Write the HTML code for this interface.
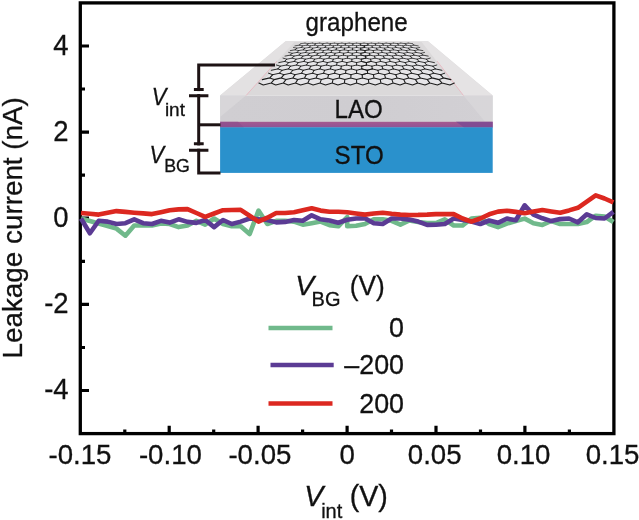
<!DOCTYPE html>
<html><head><meta charset="utf-8"><title>Leakage current</title>
<style>html,body{margin:0;padding:0;background:#fff}svg{display:block}</style></head>
<body>
<svg width="639" height="520" viewBox="0 0 639 520">
<defs><linearGradient id="lao" x1="0" y1="0" x2="1" y2="0"><stop offset="0" stop-color="#d0ced2"/><stop offset="0.5" stop-color="#cfcdd1"/><stop offset="1" stop-color="#d2d0d4"/></linearGradient><linearGradient id="pur" x1="0" y1="0" x2="0" y2="1"><stop offset="0" stop-color="#a6598f"/><stop offset="1" stop-color="#8d5497"/></linearGradient></defs>
<rect width="639" height="520" fill="#fff"/>
<polygon points="285.6,41.2 428,41.2 492.7,95.6 220.1,95.6" fill="#dbd9da"/>
<polygon points="285.6,41.2 295,41.2 246,95.6 220.1,95.6" fill="#e3e1e2"/>
<polygon points="428,41.2 421,41.2 463.5,95.6 492.7,95.6" fill="#e5e3e4"/>
<rect x="220.1" y="95.6" width="272.6" height="26.4" fill="url(#lao)"/>
<polygon points="220.1,95.6 246,95.6 220.1,117" fill="#dad8db" opacity="0.8"/>
<polygon points="492.7,95.6 463.5,95.6 485,121.8 492.7,121.8" fill="#dad8db" opacity="0.7"/>
<rect x="220.1" y="121.8" width="272.6" height="5.8" fill="url(#pur)"/>
<polygon points="456,121.8 492.7,121.8 492.7,127.6 464,127.6" fill="#7c4a92" opacity="0.8"/>
<polygon points="220.1,121.8 238,121.8 244,127.6 220.1,127.6" fill="#8a4d8c" opacity="0.6"/>
<rect x="220.1" y="127.3" width="272.6" height="45.6" fill="#2a91cc"/>
<line x1="246" y1="95.6" x2="277" y2="61" stroke="#e9b4be" stroke-width="1" opacity="0.8"/>
<line x1="463.5" y1="95.6" x2="437" y2="61" stroke="#e9b4be" stroke-width="1" opacity="0.8"/>
<polygon points="259.2,83.9 454.0,83.9 412.3,43.5 300.9,43.5" fill="#e6e5e8"/>
<g stroke="#1c1c1c" fill="none" stroke-linecap="round"><path d="M258.9 83.1L263.3 85.0M262.3 79.6L269.8 77.9M263.3 85.0L271.1 83.1M269.8 77.9L272.7 74.7M269.8 77.9L274.1 79.6M271.1 83.1L274.1 79.6M271.1 83.1L275.8 85.0M274.1 79.6L281.3 77.9M275.8 85.0L283.3 83.1M281.3 77.9L283.9 74.7M281.3 77.9L285.9 79.6M283.3 83.1L285.9 79.6M283.3 83.1L288.2 85.0M285.9 79.6L292.9 77.9M288.2 85.0L295.5 83.1M292.9 77.9L295.0 74.7M292.9 77.9L297.7 79.6M295.5 83.1L297.7 79.6M295.5 83.1L300.6 85.0M297.7 79.6L304.5 77.9M300.6 85.0L307.8 83.1M304.5 77.9L306.2 74.7M304.5 77.9L309.5 79.6M307.8 83.1L309.5 79.6M307.8 83.1L313.1 85.0M309.5 79.6L316.1 77.9M313.1 85.0L320.0 83.1M316.1 77.9L317.4 74.7M316.1 77.9L321.3 79.6M320.0 83.1L321.3 79.6M320.0 83.1L325.5 85.0M321.3 79.6L327.7 77.9M325.5 85.0L332.2 83.1M327.7 77.9L328.6 74.7M327.7 77.9L333.0 79.6M332.2 83.1L333.0 79.6M332.2 83.1L337.9 85.0M333.0 79.6L339.2 77.9M337.9 85.0L344.4 83.1M339.2 77.9L339.8 74.7M339.2 77.9L344.8 79.6M344.4 83.1L344.8 79.6M344.4 83.1L350.4 85.0M344.8 79.6L350.8 77.9M350.4 85.0L356.6 83.1M350.8 77.9L351.0 74.7M350.8 77.9L356.6 79.6M356.6 83.1L356.6 79.6M356.6 83.1L362.8 85.0M356.6 79.6L362.4 77.9M362.8 85.0L368.8 83.1M362.4 77.9L362.2 74.7M362.4 77.9L368.4 79.6M362.4 77.9L368.4 79.6M368.8 83.1L368.4 79.6M368.4 79.6L374.0 77.9M368.8 83.1L368.4 79.6M368.8 83.1L375.3 85.0M368.4 79.6L374.0 77.9M375.3 85.0L381.0 83.1M374.0 77.9L373.4 74.7M374.0 77.9L380.2 79.6M381.0 83.1L380.2 79.6M381.0 83.1L387.7 85.0M380.2 79.6L385.5 77.9M387.7 85.0L393.2 83.1M385.5 77.9L384.6 74.7M385.5 77.9L391.9 79.6M393.2 83.1L391.9 79.6M393.2 83.1L400.1 85.0M391.9 79.6L397.1 77.9M400.1 85.0L405.4 83.1M397.1 77.9L395.8 74.7M397.1 77.9L403.7 79.6M405.4 83.1L403.7 79.6M405.4 83.1L412.6 85.0M403.7 79.6L408.7 77.9M412.6 85.0L417.7 83.1M408.7 77.9L407.0 74.7M408.7 77.9L415.5 79.6M417.7 83.1L415.5 79.6M417.7 83.1L425.0 85.0M415.5 79.6L420.3 77.9M425.0 85.0L429.9 83.1M420.3 77.9L418.2 74.7M420.3 77.9L427.3 79.6M429.9 83.1L427.3 79.6M429.9 83.1L437.4 85.0M427.3 79.6L431.9 77.9M437.4 85.0L442.1 83.1M431.9 77.9L429.3 74.7M431.9 77.9L439.1 79.6M442.1 83.1L439.1 79.6M442.1 83.1L449.9 85.0M439.1 79.6L443.4 77.9M449.9 85.0L454.3 83.1M443.4 77.9L440.5 74.7M443.4 77.9L450.9 79.6" stroke-width="1.08"/><path d="M268.5 73.2L272.7 74.7M271.3 70.3L277.9 68.9M272.7 74.7L279.5 73.2M277.9 68.9L280.3 66.2M277.9 68.9L282.0 70.3M279.5 73.2L282.0 70.3M279.5 73.2L283.9 74.7M282.0 70.3L288.4 68.9M283.9 74.7L290.6 73.2M288.4 68.9L290.5 66.2M288.4 68.9L292.7 70.3M290.6 73.2L292.7 70.3M290.6 73.2L295.0 74.7M292.7 70.3L298.9 68.9M295.0 74.7L301.6 73.2M298.9 68.9L300.7 66.2M298.9 68.9L303.3 70.3M301.6 73.2L303.3 70.3M301.6 73.2L306.2 74.7M303.3 70.3L309.4 68.9M306.2 74.7L312.6 73.2M309.4 68.9L310.8 66.2M309.4 68.9L314.0 70.3M312.6 73.2L314.0 70.3M312.6 73.2L317.4 74.7M314.0 70.3L319.9 68.9M317.4 74.7L323.6 73.2M319.9 68.9L321.0 66.2M319.9 68.9L324.6 70.3M323.6 73.2L324.6 70.3M323.6 73.2L328.6 74.7M324.6 70.3L330.4 68.9M328.6 74.7L334.6 73.2M330.4 68.9L331.2 66.2M330.4 68.9L335.3 70.3M334.6 73.2L335.3 70.3M334.6 73.2L339.8 74.7M335.3 70.3L340.9 68.9M339.8 74.7L345.6 73.2M340.9 68.9L341.3 66.2M340.9 68.9L345.9 70.3M345.6 73.2L345.9 70.3M345.6 73.2L351.0 74.7M345.9 70.3L351.4 68.9M351.0 74.7L356.6 73.2M351.4 68.9L351.5 66.2M351.4 68.9L356.6 70.3M356.6 73.2L356.6 70.3M356.6 73.2L362.2 74.7M356.6 70.3L361.8 68.9M362.2 74.7L367.6 73.2M362.2 74.7L367.6 73.2M361.8 68.9L361.7 66.2M361.8 68.9L367.3 70.3M361.8 68.9L367.3 70.3M367.6 73.2L367.3 70.3M367.3 70.3L372.3 68.9M367.6 73.2L367.3 70.3M367.6 73.2L373.4 74.7M367.3 70.3L372.3 68.9M373.4 74.7L378.6 73.2M372.3 68.9L371.9 66.2M372.3 68.9L377.9 70.3M378.6 73.2L377.9 70.3M378.6 73.2L384.6 74.7M377.9 70.3L382.8 68.9M384.6 74.7L389.6 73.2M382.8 68.9L382.0 66.2M382.8 68.9L388.6 70.3M389.6 73.2L388.6 70.3M389.6 73.2L395.8 74.7M388.6 70.3L393.3 68.9M395.8 74.7L400.6 73.2M393.3 68.9L392.2 66.2M393.3 68.9L399.2 70.3M400.6 73.2L399.2 70.3M400.6 73.2L407.0 74.7M399.2 70.3L403.8 68.9M407.0 74.7L411.6 73.2M403.8 68.9L402.4 66.2M403.8 68.9L409.9 70.3M411.6 73.2L409.9 70.3M411.6 73.2L418.2 74.7M409.9 70.3L414.3 68.9M418.2 74.7L422.6 73.2M414.3 68.9L412.5 66.2M414.3 68.9L420.5 70.3M422.6 73.2L420.5 70.3M422.6 73.2L429.3 74.7M420.5 70.3L424.8 68.9M429.3 74.7L433.7 73.2M424.8 68.9L422.7 66.2M424.8 68.9L431.2 70.3M433.7 73.2L431.2 70.3M433.7 73.2L440.5 74.7M431.2 70.3L435.3 68.9M440.5 74.7L444.7 73.2M435.3 68.9L432.9 66.2M435.3 68.9L441.9 70.3" stroke-width="0.97"/><path d="M276.4 65.0L280.3 66.2M278.8 62.6L284.7 61.4M280.3 66.2L286.5 65.0M284.7 61.4L286.7 59.2M284.7 61.4L288.5 62.6M286.5 65.0L288.5 62.6M286.5 65.0L290.5 66.2M288.5 62.6L294.3 61.4M290.5 66.2L296.5 65.0M294.3 61.4L296.0 59.2M294.3 61.4L298.2 62.6M296.5 65.0L298.2 62.6M296.5 65.0L300.7 66.2M298.2 62.6L303.9 61.4M300.7 66.2L306.5 65.0M303.9 61.4L305.3 59.2M303.9 61.4L308.0 62.6M306.5 65.0L308.0 62.6M306.5 65.0L310.8 66.2M308.0 62.6L313.4 61.4M310.8 66.2L316.5 65.0M313.4 61.4L314.6 59.2M313.4 61.4L317.7 62.6M316.5 65.0L317.7 62.6M316.5 65.0L321.0 66.2M317.7 62.6L323.0 61.4M321.0 66.2L326.5 65.0M323.0 61.4L324.0 59.2M323.0 61.4L327.4 62.6M326.5 65.0L327.4 62.6M326.5 65.0L331.2 66.2M327.4 62.6L332.6 61.4M331.2 66.2L336.6 65.0M332.6 61.4L333.3 59.2M332.6 61.4L337.1 62.6M336.6 65.0L337.1 62.6M336.6 65.0L341.3 66.2M337.1 62.6L342.2 61.4M341.3 66.2L346.6 65.0M342.2 61.4L342.6 59.2M342.2 61.4L346.9 62.6M346.6 65.0L346.9 62.6M346.6 65.0L351.5 66.2M346.9 62.6L351.8 61.4M351.5 66.2L356.6 65.0M351.8 61.4L351.9 59.2M351.8 61.4L356.6 62.6M356.6 65.0L356.6 62.6M356.6 65.0L361.7 66.2M356.6 62.6L361.4 61.4M361.7 66.2L366.6 65.0M361.7 66.2L366.6 65.0M361.4 61.4L361.3 59.2M361.4 61.4L366.3 62.6M361.4 61.4L366.3 62.6M366.6 65.0L366.3 62.6M366.3 62.6L371.0 61.4M366.6 65.0L366.3 62.6M366.6 65.0L371.9 66.2M366.3 62.6L371.0 61.4M371.9 66.2L376.6 65.0M371.0 61.4L370.6 59.2M371.0 61.4L376.1 62.6M376.6 65.0L376.1 62.6M376.6 65.0L382.0 66.2M376.1 62.6L380.6 61.4M382.0 66.2L386.7 65.0M380.6 61.4L379.9 59.2M380.6 61.4L385.8 62.6M386.7 65.0L385.8 62.6M386.7 65.0L392.2 66.2M385.8 62.6L390.2 61.4M392.2 66.2L396.7 65.0M390.2 61.4L389.2 59.2M390.2 61.4L395.5 62.6M396.7 65.0L395.5 62.6M396.7 65.0L402.4 66.2M395.5 62.6L399.8 61.4M402.4 66.2L406.7 65.0M399.8 61.4L398.6 59.2M399.8 61.4L405.2 62.6M406.7 65.0L405.2 62.6M406.7 65.0L412.5 66.2M405.2 62.6L409.3 61.4M412.5 66.2L416.7 65.0M409.3 61.4L407.9 59.2M409.3 61.4L415.0 62.6M416.7 65.0L415.0 62.6M416.7 65.0L422.7 66.2M415.0 62.6L418.9 61.4M422.7 66.2L426.7 65.0M418.9 61.4L417.2 59.2M418.9 61.4L424.7 62.6M426.7 65.0L424.7 62.6M426.7 65.0L432.9 66.2M424.7 62.6L428.5 61.4M432.9 66.2L436.8 65.0M428.5 61.4L426.5 59.2M428.5 61.4L434.4 62.6" stroke-width="0.88"/><path d="M283.0 58.1L286.7 59.2M285.0 56.1L290.4 55.1M286.7 59.2L292.2 58.1M290.4 55.1L292.1 53.3M290.4 55.1L294.0 56.1M292.2 58.1L294.0 56.1M292.2 58.1L296.0 59.2M294.0 56.1L299.2 55.1M296.0 59.2L301.4 58.1M299.2 55.1L300.7 53.3M299.2 55.1L302.9 56.1M301.4 58.1L302.9 56.1M301.4 58.1L305.3 59.2M302.9 56.1L308.0 55.1M305.3 59.2L310.6 58.1M308.0 55.1L309.3 53.3M308.0 55.1L311.9 56.1M310.6 58.1L311.9 56.1M310.6 58.1L314.6 59.2M311.9 56.1L316.9 55.1M314.6 59.2L319.8 58.1M316.9 55.1L317.9 53.3M316.9 55.1L320.8 56.1M319.8 58.1L320.8 56.1M319.8 58.1L324.0 59.2M320.8 56.1L325.7 55.1M324.0 59.2L329.0 58.1M325.7 55.1L326.5 53.3M325.7 55.1L329.8 56.1M329.0 58.1L329.8 56.1M329.0 58.1L333.3 59.2M329.8 56.1L334.5 55.1M333.3 59.2L338.2 58.1M334.5 55.1L335.1 53.3M334.5 55.1L338.7 56.1M338.2 58.1L338.7 56.1M338.2 58.1L342.6 59.2M338.7 56.1L343.4 55.1M342.6 59.2L347.4 58.1M343.4 55.1L343.7 53.3M343.4 55.1L347.7 56.1M347.4 58.1L347.7 56.1M347.4 58.1L351.9 59.2M347.7 56.1L352.2 55.1M351.9 59.2L356.6 58.1M352.2 55.1L352.3 53.3M352.2 55.1L356.6 56.1M356.6 58.1L356.6 56.1M356.6 58.1L361.3 59.2M356.6 56.1L361.0 55.1M361.3 59.2L365.8 58.1M361.3 59.2L365.8 58.1M361.0 55.1L360.9 53.3M361.0 55.1L365.5 56.1M361.0 55.1L365.5 56.1M365.8 58.1L365.5 56.1M365.5 56.1L369.8 55.1M365.8 58.1L365.5 56.1M365.8 58.1L370.6 59.2M365.5 56.1L369.8 55.1M370.6 59.2L375.0 58.1M369.8 55.1L369.5 53.3M369.8 55.1L374.5 56.1M375.0 58.1L374.5 56.1M375.0 58.1L379.9 59.2M374.5 56.1L378.7 55.1M379.9 59.2L384.2 58.1M378.7 55.1L378.1 53.3M378.7 55.1L383.4 56.1M384.2 58.1L383.4 56.1M384.2 58.1L389.2 59.2M383.4 56.1L387.5 55.1M389.2 59.2L393.4 58.1M387.5 55.1L386.7 53.3M387.5 55.1L392.4 56.1M393.4 58.1L392.4 56.1M393.4 58.1L398.6 59.2M392.4 56.1L396.3 55.1M398.6 59.2L402.6 58.1M396.3 55.1L395.3 53.3M396.3 55.1L401.3 56.1M402.6 58.1L401.3 56.1M402.6 58.1L407.9 59.2M401.3 56.1L405.2 55.1M407.9 59.2L411.8 58.1M405.2 55.1L403.9 53.3M405.2 55.1L410.3 56.1M411.8 58.1L410.3 56.1M411.8 58.1L417.2 59.2M410.3 56.1L414.0 55.1M417.2 59.2L421.0 58.1M414.0 55.1L412.5 53.3M414.0 55.1L419.2 56.1M421.0 58.1L419.2 56.1M421.0 58.1L426.5 59.2M419.2 56.1L422.8 55.1M426.5 59.2L430.2 58.1M422.8 55.1L421.1 53.3M422.8 55.1L428.2 56.1" stroke-width="0.80"/><path d="M288.6 52.4L292.1 53.3M290.3 50.6L295.2 49.8M292.1 53.3L297.1 52.4M295.2 49.8L296.7 48.2M295.2 49.8L298.6 50.6M297.1 52.4L298.6 50.6M297.1 52.4L300.7 53.3M298.6 50.6L303.4 49.8M300.7 53.3L305.6 52.4M303.4 49.8L304.7 48.2M303.4 49.8L306.9 50.6M305.6 52.4L306.9 50.6M305.6 52.4L309.3 53.3M306.9 50.6L311.6 49.8M309.3 53.3L314.1 52.4M311.6 49.8L312.7 48.2M311.6 49.8L315.2 50.6M314.1 52.4L315.2 50.6M314.1 52.4L317.9 53.3M315.2 50.6L319.8 49.8M317.9 53.3L322.6 52.4M319.8 49.8L320.7 48.2M319.8 49.8L323.5 50.6M322.6 52.4L323.5 50.6M322.6 52.4L326.5 53.3M323.5 50.6L328.0 49.8M326.5 53.3L331.1 52.4M328.0 49.8L328.6 48.2M328.0 49.8L331.7 50.6M331.1 52.4L331.7 50.6M331.1 52.4L335.1 53.3M331.7 50.6L336.1 49.8M335.1 53.3L339.6 52.4M336.1 49.8L336.6 48.2M336.1 49.8L340.0 50.6M339.6 52.4L340.0 50.6M339.6 52.4L343.7 53.3M340.0 50.6L344.3 49.8M343.7 53.3L348.1 52.4M344.3 49.8L344.6 48.2M344.3 49.8L348.3 50.6M348.1 52.4L348.3 50.6M348.1 52.4L352.3 53.3M348.3 50.6L352.5 49.8M352.3 53.3L356.6 52.4M352.5 49.8L352.6 48.2M352.5 49.8L356.6 50.6M356.6 52.4L356.6 50.6M356.6 52.4L360.9 53.3M356.6 50.6L360.7 49.8M360.9 53.3L365.1 52.4M360.9 53.3L365.1 52.4M360.7 49.8L360.6 48.2M360.7 49.8L364.9 50.6M360.7 49.8L364.9 50.6M365.1 52.4L364.9 50.6M364.9 50.6L368.9 49.8M365.1 52.4L364.9 50.6M365.1 52.4L369.5 53.3M364.9 50.6L368.9 49.8M369.5 53.3L373.6 52.4M368.9 49.8L368.6 48.2M368.9 49.8L373.2 50.6M373.6 52.4L373.2 50.6M373.6 52.4L378.1 53.3M373.2 50.6L377.1 49.8M378.1 53.3L382.1 52.4M377.1 49.8L376.6 48.2M377.1 49.8L381.5 50.6M382.1 52.4L381.5 50.6M382.1 52.4L386.7 53.3M381.5 50.6L385.2 49.8M386.7 53.3L390.6 52.4M385.2 49.8L384.6 48.2M385.2 49.8L389.7 50.6M390.6 52.4L389.7 50.6M390.6 52.4L395.3 53.3M389.7 50.6L393.4 49.8M395.3 53.3L399.1 52.4M393.4 49.8L392.5 48.2M393.4 49.8L398.0 50.6M399.1 52.4L398.0 50.6M399.1 52.4L403.9 53.3M398.0 50.6L401.6 49.8M403.9 53.3L407.6 52.4M401.6 49.8L400.5 48.2M401.6 49.8L406.3 50.6M407.6 52.4L406.3 50.6M407.6 52.4L412.5 53.3M406.3 50.6L409.8 49.8M412.5 53.3L416.1 52.4M409.8 49.8L408.5 48.2M409.8 49.8L414.6 50.6M416.1 52.4L414.6 50.6M416.1 52.4L421.1 53.3M414.6 50.6L418.0 49.8M421.1 53.3L424.6 52.4M418.0 49.8L416.5 48.2M418.0 49.8L422.9 50.6" stroke-width="0.74"/><path d="M293.4 47.4L296.7 48.2M294.9 45.9L299.4 45.1M296.7 48.2L301.3 47.4M299.4 45.1L300.7 43.7M299.4 45.1L302.6 45.9M301.3 47.4L302.6 45.9M301.3 47.4L304.7 48.2M302.6 45.9L307.0 45.1M304.7 48.2L309.2 47.4M307.0 45.1L308.1 43.7M307.0 45.1L310.3 45.9M309.2 47.4L310.3 45.9M309.2 47.4L312.7 48.2M310.3 45.9L314.7 45.1M312.7 48.2L317.1 47.4M314.7 45.1L315.6 43.7M314.7 45.1L318.0 45.9M317.1 47.4L318.0 45.9M317.1 47.4L320.7 48.2M318.0 45.9L322.3 45.1M320.7 48.2L325.0 47.4M322.3 45.1L323.1 43.7M322.3 45.1L325.7 45.9M325.0 47.4L325.7 45.9M325.0 47.4L328.6 48.2M325.7 45.9L329.9 45.1M328.6 48.2L332.9 47.4M329.9 45.1L330.5 43.7M329.9 45.1L333.5 45.9M332.9 47.4L333.5 45.9M332.9 47.4L336.6 48.2M333.5 45.9L337.5 45.1M336.6 48.2L340.8 47.4M337.5 45.1L338.0 43.7M337.5 45.1L341.2 45.9M340.8 47.4L341.2 45.9M340.8 47.4L344.6 48.2M341.2 45.9L345.2 45.1M344.6 48.2L348.7 47.4M345.2 45.1L345.4 43.7M345.2 45.1L348.9 45.9M348.7 47.4L348.9 45.9M348.7 47.4L352.6 48.2M348.9 45.9L352.8 45.1M352.6 48.2L356.6 47.4M352.8 45.1L352.9 43.7M352.8 45.1L356.6 45.9M356.6 47.4L356.6 45.9M356.6 47.4L360.6 48.2M356.6 45.9L360.4 45.1M360.6 48.2L364.5 47.4M360.6 48.2L364.5 47.4M360.4 45.1L360.3 43.7M360.4 45.1L364.3 45.9M360.4 45.1L364.3 45.9M364.5 47.4L364.3 45.9M364.3 45.9L368.0 45.1M364.5 47.4L364.3 45.9M364.5 47.4L368.6 48.2M364.3 45.9L368.0 45.1M368.6 48.2L372.4 47.4M368.0 45.1L367.8 43.7M368.0 45.1L372.0 45.9M372.4 47.4L372.0 45.9M372.4 47.4L376.6 48.2M372.0 45.9L375.7 45.1M376.6 48.2L380.3 47.4M375.7 45.1L375.2 43.7M375.7 45.1L379.7 45.9M380.3 47.4L379.7 45.9M380.3 47.4L384.6 48.2M379.7 45.9L383.3 45.1M384.6 48.2L388.2 47.4M383.3 45.1L382.7 43.7M383.3 45.1L387.5 45.9M388.2 47.4L387.5 45.9M388.2 47.4L392.5 48.2M387.5 45.9L390.9 45.1M392.5 48.2L396.1 47.4M390.9 45.1L390.1 43.7M390.9 45.1L395.2 45.9M396.1 47.4L395.2 45.9M396.1 47.4L400.5 48.2M395.2 45.9L398.5 45.1M400.5 48.2L404.0 47.4M398.5 45.1L397.6 43.7M398.5 45.1L402.9 45.9M404.0 47.4L402.9 45.9M404.0 47.4L408.5 48.2M402.9 45.9L406.2 45.1M408.5 48.2L411.9 47.4M406.2 45.1L405.1 43.7M406.2 45.1L410.6 45.9M411.9 47.4L410.6 45.9M411.9 47.4L416.5 48.2M410.6 45.9L413.8 45.1M416.5 48.2L419.8 47.4M413.8 45.1L412.5 43.7M413.8 45.1L418.3 45.9" stroke-width="0.68"/><path d="M300.7 43.7L305.0 43.1M305.0 43.1L308.1 43.7M308.1 43.7L312.4 43.1M312.4 43.1L315.6 43.7M315.6 43.7L319.7 43.1M319.7 43.1L323.1 43.7M323.1 43.7L327.1 43.1M327.1 43.1L330.5 43.7M330.5 43.7L334.5 43.1M334.5 43.1L338.0 43.7M338.0 43.7L341.9 43.1M341.9 43.1L345.4 43.7M345.4 43.7L349.2 43.1M349.2 43.1L352.9 43.7M352.9 43.7L356.6 43.1M356.6 43.1L360.3 43.7M360.3 43.7L364.0 43.1M364.0 43.1L367.8 43.7M367.8 43.7L371.3 43.1M371.3 43.1L375.2 43.7M375.2 43.7L378.7 43.1M378.7 43.1L382.7 43.7M382.7 43.7L386.1 43.1M386.1 43.1L390.1 43.7M390.1 43.7L393.5 43.1M393.5 43.1L397.6 43.7M397.6 43.7L400.8 43.1M400.8 43.1L405.1 43.7M405.1 43.7L408.2 43.1M408.2 43.1L412.5 43.7" stroke-width="0.63"/></g>
<g stroke="#1d1314" stroke-width="3.0" fill="none" stroke-linecap="butt">
<path d="M275 65H198.7V173.1H220.5"/>
<path d="M198.7 124.8H220.5"/>
</g>
<rect x="195" y="91.1" width="7" height="3" fill="#fff"/>
<rect x="195" y="145.4" width="7" height="3.3" fill="#fff"/>
<g stroke="#1d1314" stroke-width="3.0">
<path d="M193.9 89.5H203.7M189 95.7H208.4M193.9 143.8H203.7M189 150.3H208.4"/>
</g>
<rect x="80.3" y="2.9" width="533.6" height="430.7" fill="none" stroke="#000" stroke-width="3.3"/>
<path d="M80.3 46.0h8.7M80.3 132.1h8.7M80.3 218.2h8.7M80.3 304.4h8.7M80.3 390.5h8.7M80.3 89.0h4.7M80.3 175.2h4.7M80.3 261.3h4.7M80.3 347.5h4.7M169.2 433.6v-7.8M258.1 433.6v-7.8M347.1 433.6v-7.8M436.0 433.6v-7.8M524.9 433.6v-7.8M124.8 433.6v-4.2M213.7 433.6v-4.2M302.6 433.6v-4.2M391.5 433.6v-4.2M480.5 433.6v-4.2M569.4 433.6v-4.2" stroke="#000" stroke-width="3.2" fill="none"/>
<g fill="none" stroke-width="4.6" stroke-linejoin="round" stroke-linecap="butt">
<polyline points="81.0,218.5 89.9,221.0 98.7,223.5 107.6,226.0 116.5,228.6 125.4,235.7 134.2,225.5 143.1,225.5 152.0,225.5 160.9,223.5 169.7,224.0 178.6,227.1 187.5,225.5 196.4,220.8 205.2,224.7 214.1,218.5 223.0,224.0 231.8,226.3 240.7,226.3 249.6,234.1 258.5,210.6 267.3,224.0 276.2,220.8 285.1,220.8 294.0,221.6 302.8,224.7 311.7,223.2 320.6,221.6 329.5,225.1 338.3,226.3 347.2,217.0 347.2,226.3 356.1,225.8 364.9,224.0 373.8,219.3 382.7,219.3 391.6,220.8 400.4,224.7 409.3,220.5 418.2,222.0 427.1,223.0 435.9,223.0 444.8,219.3 453.7,225.5 462.6,225.5 471.4,218.5 480.3,217.7 489.2,224.0 498.0,227.2 506.9,223.6 515.8,221.0 524.7,218.6 533.5,223.3 542.4,224.9 551.3,221.0 560.2,224.0 569.0,224.0 577.9,224.0 586.8,222.0 595.7,215.7 604.5,216.5 613.4,222.0" stroke="#70b98b"/>
<polyline points="81.0,218.5 89.9,233.3 98.7,220.8 107.6,221.6 116.5,224.0 125.4,223.2 134.2,219.3 143.1,223.2 152.0,224.0 160.9,220.8 169.7,222.6 178.6,219.3 187.5,221.9 196.4,222.9 205.2,220.0 214.1,227.1 223.0,220.0 231.8,224.0 240.7,221.6 249.6,218.5 258.5,219.2 267.3,220.0 276.2,222.4 285.1,221.9 294.0,220.0 302.8,220.8 311.7,215.3 320.6,219.3 329.5,220.5 338.3,222.7 347.2,219.8 356.1,218.5 364.9,218.2 373.8,223.2 382.7,224.0 391.6,218.5 400.4,218.5 409.3,219.6 418.2,221.6 427.1,224.9 435.9,224.7 444.8,224.0 453.7,218.5 462.6,220.0 471.4,221.5 480.3,224.0 489.2,220.5 498.0,222.8 506.9,218.6 515.8,220.2 524.7,205.3 533.5,214.7 542.4,218.3 551.3,221.1 560.2,219.1 569.0,218.5 577.9,222.3 586.8,214.3 595.7,218.0 604.5,218.5 613.4,211.8" stroke="#5b3b94"/>
<polyline points="81.0,213.0 89.9,213.8 98.7,214.6 107.6,212.8 116.5,211.1 125.4,211.9 134.2,212.7 143.1,213.4 152.0,214.1 160.9,212.2 169.7,210.2 178.6,209.4 187.5,209.1 196.4,213.0 205.2,216.9 214.1,213.5 223.0,210.2 231.8,210.0 240.7,209.9 249.6,215.7 258.5,221.6 267.3,217.7 276.2,213.0 285.1,213.0 294.0,212.2 302.8,210.2 311.7,208.3 320.6,210.6 329.5,211.7 338.3,211.7 347.2,212.2 356.1,213.5 364.9,214.6 373.8,213.5 382.7,212.7 391.6,213.8 400.4,214.6 409.3,215.0 418.2,214.9 427.1,214.6 435.9,214.1 444.8,214.1 453.7,214.1 462.6,218.5 471.4,221.6 480.3,218.5 489.2,214.3 498.0,211.6 506.9,210.8 515.8,211.9 524.7,213.2 533.5,211.6 542.4,210.0 551.3,211.4 560.2,212.7 569.0,210.4 577.9,207.8 586.8,201.6 595.7,195.3 604.5,198.5 613.4,202.4" stroke="#dc2820"/>
</g>
<g font-family="'Liberation Sans', Arial, sans-serif" fill="#111" stroke="#111" stroke-width="0.3">
<text transform="translate(68.6,54.6) scale(0.960,1)" font-size="28.6" text-anchor="end">4</text>
<text transform="translate(68.6,140.7) scale(0.960,1)" font-size="28.6" text-anchor="end">2</text>
<text transform="translate(68.6,226.8) scale(0.960,1)" font-size="28.6" text-anchor="end">0</text>
<text transform="translate(68.6,313.0) scale(0.960,1)" font-size="28.6" text-anchor="end">-2</text>
<text transform="translate(68.6,399.1) scale(0.960,1)" font-size="28.6" text-anchor="end">-4</text>
<text transform="translate(80.0,463.5) scale(0.980,1)" font-size="28.2" text-anchor="middle">-0.15</text>
<text transform="translate(170.4,463.5) scale(0.980,1)" font-size="28.2" text-anchor="middle">-0.10</text>
<text transform="translate(259.9,463.5) scale(0.980,1)" font-size="28.2" text-anchor="middle">-0.05</text>
<text transform="translate(347.1,463.5) scale(0.980,1)" font-size="28.2" text-anchor="middle">0</text>
<text transform="translate(434.7,463.5) scale(0.980,1)" font-size="28.2" text-anchor="middle">0.05</text>
<text transform="translate(523.6,463.5) scale(0.980,1)" font-size="28.2" text-anchor="middle">0.10</text>
<text transform="translate(612.6,463.5) scale(0.980,1)" font-size="28.2" text-anchor="middle">0.15</text>
<text transform="translate(21.9,227.8) rotate(-90) scale(0.980,1)" font-size="28.4" text-anchor="middle">Leakage current (nA)</text>
<text transform="translate(305.6,31.2) scale(0.930,1)" font-size="26" text-anchor="start">graphene</text>
<text transform="translate(334.6,117.6) scale(0.965,1)" font-size="25" text-anchor="start">LAO</text>
<text transform="translate(334.6,164.2) scale(0.965,1)" font-size="25" text-anchor="start">STO</text>
<text transform="translate(151.8,105.3) scale(0.900,1)" font-size="24.4" text-anchor="start"><tspan font-style="italic">V</tspan></text>
<text transform="translate(164.9,115.6)" font-size="19" text-anchor="start">int</text>
<text transform="translate(149.5,163.0) scale(0.900,1)" font-size="24.4" text-anchor="start"><tspan font-style="italic">V</tspan></text>
<text transform="translate(164.2,172.1)" font-size="17.8" text-anchor="start">BG</text>
<text transform="translate(295.3,294.6)" font-size="28.3" text-anchor="start"><tspan font-style="italic">V</tspan></text>
<text transform="translate(311.6,306.3)" font-size="20" text-anchor="start">BG</text>
<text transform="translate(349.8,294.6) scale(0.930,1)" font-size="28.3" text-anchor="start">(V)</text>
<text transform="translate(404.0,337.0) scale(0.980,1)" font-size="27.4" text-anchor="end">0</text>
<text transform="translate(404.0,374.0) scale(0.980,1)" font-size="27.4" text-anchor="end">–200</text>
<text transform="translate(404.0,413.0) scale(0.980,1)" font-size="27.4" text-anchor="end">200</text>
<text transform="translate(304.3,505.6)" font-size="28.6" text-anchor="start"><tspan font-style="italic">V</tspan><tspan dx="-2.2" dy="12" font-size="20">int</tspan><tspan dx="-0.6" dy="-12" font-size="28.6"> (V)</tspan></text>
</g>
<g stroke-width="4.6" fill="none">
<path d="M268.5 328H332.5" stroke="#70b98b"/>
<path d="M270.5 365H333.7" stroke="#5b3b94"/>
<path d="M268.5 403.5H332.5" stroke="#dc2820"/>
</g>
</svg>
</body></html>
